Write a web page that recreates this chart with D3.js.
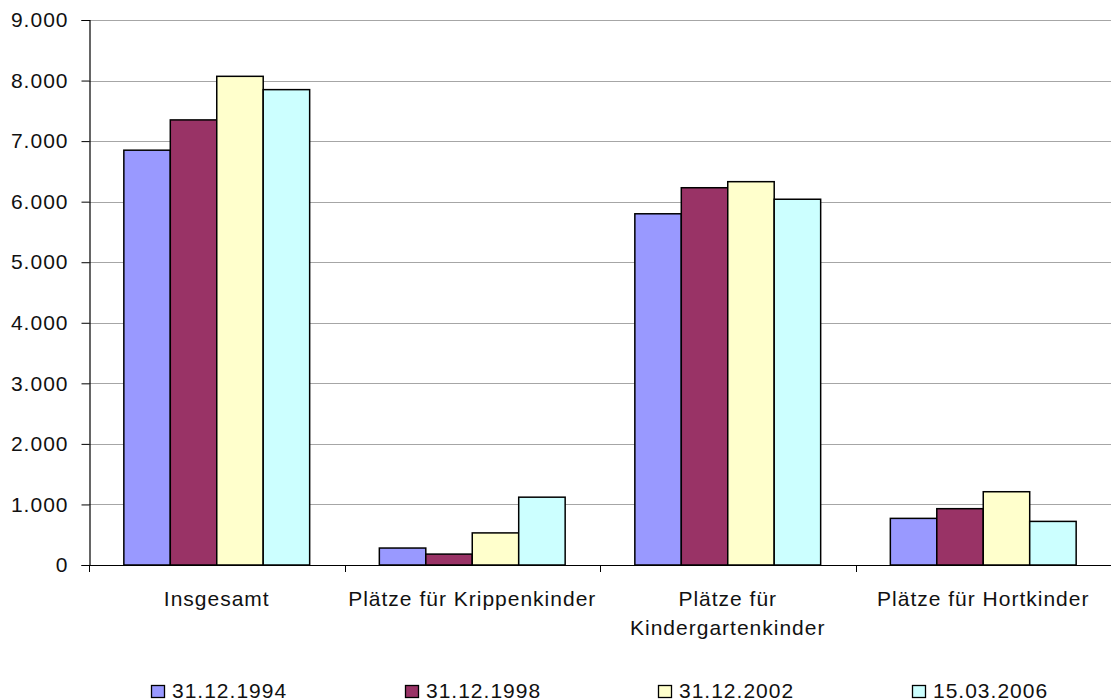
<!DOCTYPE html>
<html>
<head>
<meta charset="utf-8">
<script src="https://cdn.jsdelivr.net/npm/d3@7"></script>
<style>
  html, body { margin: 0; padding: 0; background: #fff; }
  svg { display: block; font-family: "Liberation Sans", Arial, sans-serif; }
</style>
</head>
<body>
<svg id="chart" width="1111" height="700"></svg>
<script>
const categories = [
  ["Insgesamt"],
  ["Plätze für Krippenkinder"],
  ["Plätze für", "Kindergartenkinder"],
  ["Plätze für Hortkinder"]
];
const seriesNames = ["31.12.1994", "31.12.1998", "31.12.2002", "15.03.2006"];
const s1994 = [6850, 280, 5800, 770];
const s1998 = [7350, 180, 6230, 930];
const s2002 = [8070, 530, 6330, 1210];
const s2006 = [7850, 1120, 6040, 720];
const seriesColors = ["#9999FF", "#993366", "#FFFFCC", "#CCFFFF"];
const yTicks = [0, 1000, 2000, 3000, 4000, 5000, 6000, 7000, 8000, 9000];

const series = [s1994, s1998, s2002, s2006];
const svg = d3.select("#chart");
const mLeft = 89, mRight = 1111, mTop = 20, mBottom = 565;
const FS = 21, LS = 1;

const x0 = d3.scaleBand().domain(d3.range(categories.length)).range([mLeft, mRight]).padding(0);
const bw = x0.bandwidth();
const barW = bw / 5.5;
const x1 = d3.scaleBand().domain(d3.range(series.length)).range([barW * 0.75, bw - barW * 0.75]).padding(0);
const y = d3.scaleLinear().domain([0, 9000]).range([mBottom, mTop]);

const fmt = v => d3.format(",")(v).replace(/,/g, ".");

// gridlines
svg.append("g").selectAll("line").data(yTicks.filter(t => t > 0)).join("line")
  .attr("x1", mLeft).attr("x2", mRight)
  .attr("y1", d => Math.round(y(d)) + 0.5).attr("y2", d => Math.round(y(d)) + 0.5)
  .attr("stroke", "#a6a6a6").attr("stroke-width", 1);

// bars
const g = svg.append("g");
categories.forEach((c, ci) => {
  series.forEach((s, si) => {
    g.append("rect")
      .attr("x", x0(ci) + x1(si))
      .attr("y", y(s[ci]))
      .attr("width", x1.bandwidth())
      .attr("height", y(0) - y(s[ci]))
      .attr("fill", seriesColors[si])
      .attr("stroke", "#000")
      .attr("stroke-width", 1.5);
  });
});

// y axis
const yAxis = d3.axisLeft(y).tickValues(yTicks).tickFormat(fmt).tickSize(8).tickPadding(13);
const ya = svg.append("g").attr("transform", `translate(${mLeft + 0.5},0)`).call(yAxis);
ya.select(".domain").attr("stroke", "#000").attr("stroke-width", 1.2);
ya.selectAll(".tick line").attr("stroke", "#000");
ya.selectAll(".tick text").attr("font-size", FS).attr("fill", "#111")
  .attr("letter-spacing", LS)
  .attr("font-family", "Liberation Sans, Arial, sans-serif");

// x axis line
svg.append("line").attr("x1", mLeft).attr("x2", mRight)
  .attr("y1", mBottom + 0.5).attr("y2", mBottom + 0.5)
  .attr("stroke", "#000").attr("stroke-width", 1.2);
// x ticks at boundaries
svg.append("g").selectAll("line").data(d3.range(categories.length)).join("line")
  .attr("x1", d => Math.round(x0(d)) + 0.5).attr("x2", d => Math.round(x0(d)) + 0.5)
  .attr("y1", mBottom).attr("y2", mBottom + 7)
  .attr("stroke", "#000").attr("stroke-width", 1);

// category labels
categories.forEach((c, ci) => {
  const t = svg.append("text")
    .attr("x", x0(ci) + bw / 2)
    .attr("y", 606)
    .attr("text-anchor", "middle")
    .attr("font-size", FS)
    .attr("letter-spacing", LS)
    .attr("fill", "#111");
  c.forEach((line, li) => {
    t.append("tspan").attr("x", x0(ci) + bw / 2).attr("dy", li === 0 ? 0 : 29).text(line);
  });
});

// legend
const legendX = [151, 405, 658, 912];
seriesNames.forEach((n, i) => {
  const lg = svg.append("g").attr("transform", `translate(${legendX[i]},0)`);
  lg.append("rect").attr("x", 0.5).attr("y", 685.5).attr("width", 13).attr("height", 12)
    .attr("fill", seriesColors[i]).attr("stroke", "#000").attr("stroke-width", 1.3);
  lg.append("text").attr("x", 21).attr("y", 697.5).attr("font-size", FS)
    .attr("letter-spacing", LS).attr("fill", "#111").text(n);
});
</script>
</body>
</html>
